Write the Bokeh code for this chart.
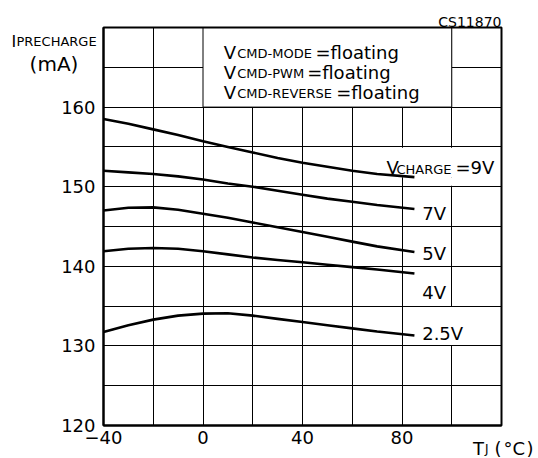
from bokeh.plotting import figure
from bokeh.models import Range1d, FixedTicker, Label
from bokeh.embed import file_html
from bokeh.resources import INLINE

# ---- data ----
temps = [-40, -30, -20, -10, 0, 10, 20, 30, 40, 50, 60, 70, 85]
i_9v = [158.5, 157.9, 157.2, 156.5, 155.7, 155.0, 154.3, 153.6, 153.0, 152.5, 152.0, 151.6, 151.2]
i_7v = [152.0, 151.8, 151.6, 151.3, 150.9, 150.4, 150.0, 149.5, 149.0, 148.5, 148.1, 147.7, 147.2]
i_5v = [147.0, 147.35, 147.4, 147.1, 146.6, 146.1, 145.5, 144.9, 144.3, 143.7, 143.1, 142.5, 141.8]
i_4v = [141.9, 142.2, 142.3, 142.2, 141.9, 141.5, 141.1, 140.8, 140.5, 140.2, 139.9, 139.6, 139.1]
i_25v = [131.75, 132.6, 133.3, 133.8, 134.05, 134.1, 133.8, 133.4, 133.0, 132.6, 132.2, 131.8, 131.3]
series = [i_9v, i_7v, i_5v, i_4v, i_25v]

x_ticks = [-40, 0, 40, 80]
y_ticks = [120, 130, 140, 150, 160]
x_grid = [-40, -20, 0, 20, 40, 60, 80, 100, 120]
y_grid = [120, 125, 130, 135, 140, 145, 150, 155, 160, 165, 170]
x_lim = (-40, 120)
y_lim = (120, 170)

FONT = "DejaVu Sans"
W, H = 536, 458
# data box on the page (pixels)
BOX_L, BOX_R, BOX_T, BOX_B = 103, 501, 27, 425
sx = (BOX_R - BOX_L) / (x_lim[1] - x_lim[0])
sy = (BOX_B - BOX_T) / (y_lim[1] - y_lim[0])
x0 = x_lim[0] - BOX_L / sx
y1 = y_lim[1] + BOX_T / sy


def px2x(px):
    return x0 + px / sx


def py2y(py):
    return y1 - py / sy


p = figure(output_backend="svg", toolbar_location=None, title=None,
           width=W, height=H, min_border=0,
           x_range=Range1d(x0, x0 + W / sx), y_range=Range1d(y1 - H / sy, y1))
p.background_fill_color = "white"
p.border_fill_color = "white"
p.outline_line_color = None

# axes drawn at the data box edges
p.xaxis.fixed_location = y_lim[0]
p.yaxis.fixed_location = x_lim[0]
p.xaxis.bounds = x_lim
p.yaxis.bounds = y_lim
p.xaxis.ticker = FixedTicker(ticks=x_ticks)
p.yaxis.ticker = FixedTicker(ticks=y_ticks)
p.xaxis.major_label_overrides = {-40: "\u221240"}
for ax in (p.xaxis, p.yaxis):
    ax.major_tick_line_color = None
    ax.minor_tick_line_color = None
    ax.major_tick_in = 0
    ax.major_tick_out = 0
    ax.axis_line_color = "black"
    ax.axis_line_width = 2
    ax.major_label_text_font = FONT
    ax.major_label_text_font_size = "18px"
    ax.major_label_text_color = "black"
p.yaxis.major_label_standoff = 8
p.xaxis.major_label_standoff = 5

# grid
xg, yg = p.xgrid[0], p.ygrid[0]
xg.ticker = FixedTicker(ticks=x_grid)
yg.ticker = FixedTicker(ticks=y_grid)
xg.bounds = x_lim
yg.bounds = y_lim
if "cross_bounds" in xg.properties():
    xg.cross_bounds = y_lim
    yg.cross_bounds = x_lim
    for g in (xg, yg):
        g.grid_line_color = "black"
        g.grid_line_width = 1
else:
    xg.visible = False
    yg.visible = False
    p.segment(x0=x_grid, x1=x_grid, y0=[y_lim[0]] * len(x_grid), y1=[y_lim[1]] * len(x_grid),
              line_color="black", line_width=1)
    p.segment(x0=[x_lim[0]] * len(y_grid), x1=[x_lim[1]] * len(y_grid), y0=y_grid, y1=y_grid,
              line_color="black", line_width=1)

# legend box (white, hides grid)
p.quad(left=[0], right=[100], bottom=[160], top=[170],
       fill_color="white", line_color="black", line_width=1)
# white backgrounds behind curve labels
p.quad(left=[73, 86, 87], right=[119.6, 119.6, 107],
       bottom=[151.2, 150.12, 130.12], top=[154.88, 151.2, 134.88],
       fill_color="white", line_color=None)
# data box border
p.quad(left=[x_lim[0]], right=[x_lim[1]], bottom=[y_lim[0]], top=[y_lim[1]],
       fill_color=None, line_color="black", line_width=2)

# curves
for s in series:
    p.line(temps, s, line_color="black", line_width=2.6)


def lab(px, py, text, size="18px", align="left"):
    p.add_layout(Label(x=px2x(px), y=py2y(py), text=text, text_font=FONT,
                       text_font_size=size, text_color="black",
                       text_align=align, text_baseline="alphabetic"))


# top-right code
lab(501, 21.7, "CS11870", size="14px", align="right")

# y-axis title
lab(11, 40.5, "I", size="16px")
lab(16, 40.5, "PRECHARGE", size="13px")
lab(53.5, 63, "(mA)", size="20px", align="center")

# legend texts
for base, sub, eq_x in ((51.7, "CMD-MODE", 315), (71.7, "CMD-PWM", 306.7),
                        (91.7, "CMD-REVERSE", 335.7)):
    lab(223.3, base, "V")
    lab(236.7, base + 1.6, sub, size="13px")
    lab(eq_x, base, "=floating")

# curve labels
lab(386, 166.7, "V")
lab(396, 169.3, "CHARGE", size="13px")
lab(455, 166.7, "=9V")
lab(421.7, 213.3, "7V")
lab(421.7, 253.3, "5V")
lab(421.7, 292.3, "4V")
lab(421.7, 332.7, "2.5V")

# x-axis title
lab(472.5, 448, "T")
lab(484.5, 448, "J", size="12px")
lab(494, 448, "(")
lab(503, 448, "\u00b0C")
lab(526, 448, ")")

open("out.html", "w").write(file_html(p, INLINE))
